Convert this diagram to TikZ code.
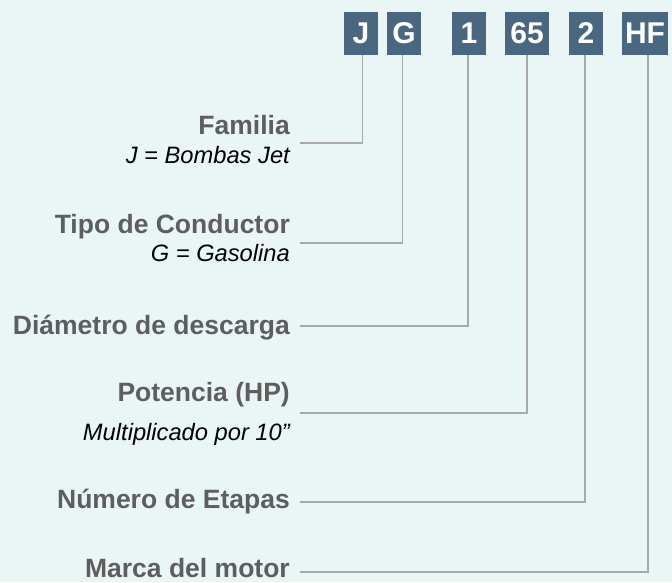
\documentclass[tikz,border=0pt]{standalone}
\usepackage{fontspec}
\setmainfont{Liberation Sans}
\usepackage{tikz}
\usetikzlibrary{positioning}

\definecolor{bgcyan}{HTML}{EAF6F6}
\definecolor{boxblue}{HTML}{4A6781}
\definecolor{labelgray}{HTML}{5E5E5E}
\definecolor{leadgray}{HTML}{A9A9A9}

\tikzset{
  codebox/.style={fill=boxblue,text=white,inner sep=0pt,minimum height=43pt,
    font=\fontsize{30}{30}\selectfont\bfseries},
  title/.style={anchor=base east,inner sep=0pt,text=labelgray,
    font=\fontsize{26.5}{26.5}\selectfont\bfseries},
  note/.style={anchor=base east,inner sep=0pt,text=black,
    font=\fontsize{23.7}{23.7}\selectfont\itshape},
  lead/.style={draw=leadgray,line width=1.3pt}
}

\begin{document}
\begin{tikzpicture}[x=1pt,y=-1pt]
  \fill[bgcyan]
    (0,0)
    rectangle
    (672,582);
  \useasboundingbox
    (0,0)
    rectangle
    (672,582);
  \node[codebox,minimum width=34pt] (J) at (361,33.5) {J};
  \node[codebox,minimum width=34pt] (G) at (404,33.5) {G};
  \node[codebox,minimum width=34pt] (d1) at (469,33.5) {1};
  \node[codebox,minimum width=44pt] (d65) at (527,33.5) {65};
  \node[codebox,minimum width=34pt] (d2) at (586,33.5) {2};
  \node[codebox,minimum width=46pt] (HF) at (645,33.5) {HF};
  \node[title] (fam) at (290,134.5) {Familia};
  \node[note] (famnote) at (290,163.5) {J = Bombas Jet};
  \node[title] (tipo) at (290,233) {Tipo de Conductor};
  \node[note] (tiponote) at (290,261.7) {G = Gasolina};
  \node[title] (diam) at (290,334) {Diámetro de descarga};
  \node[title] (pot) at (290,401) {Potencia (HP)};
  \node[note] (potnote) at (290,440) {Multiplicado por 10”};
  \node[title] (etap) at (290,508) {Número de Etapas};
  \node[title] (marca) at (290,577) {Marca del motor};
  \coordinate (u1) at (300,143);
  \coordinate (u2) at (300,243);
  \coordinate (u3) at (300,326);
  \coordinate (u4) at (300,413);
  \coordinate (u5) at (300,502);
  \coordinate (u6) at (300,572);
  \draw[lead]
    ([xshift=1.7pt]J.south)
    |-
    (u1);
  \draw[lead]
    ([xshift=-1.3pt]G.south)
    |-
    (u2);
  \draw[lead]
    ([xshift=-1pt]d1.south)
    |-
    (u3);
  \draw[lead]
    (d65.south)
    |-
    (u4);
  \draw[lead]
    ([xshift=-1pt]d2.south)
    |-
    (u5);
  \draw[lead]
    ([xshift=3pt]HF.south)
    |-
    (u6);
\end{tikzpicture}
\end{document}
